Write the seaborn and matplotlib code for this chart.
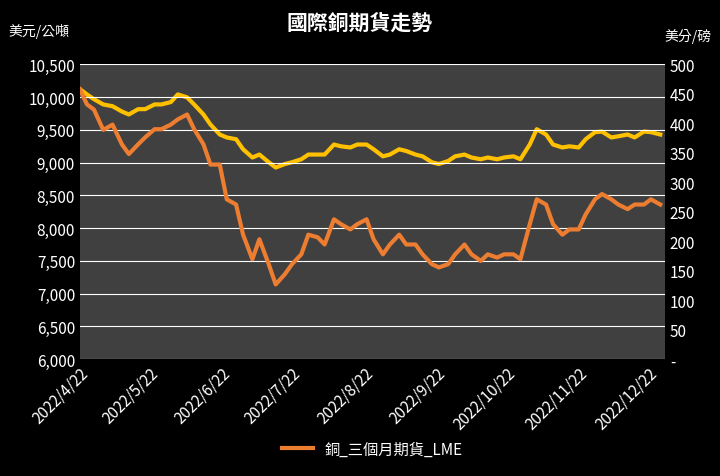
import matplotlib
matplotlib.use("Agg")
import matplotlib.pyplot as plt
import matplotlib.dates as mdates
import seaborn as sns
import pandas as pd

plt.rcParams["font.family"] = ["Noto Sans CJK TC", "DejaVu Sans"]

dates = ["2022-04-22","2022-04-25","2022-04-28","2022-05-02","2022-05-06","2022-05-10","2022-05-13","2022-05-17","2022-05-20","2022-05-24","2022-05-27","2022-05-31","2022-06-03","2022-06-07","2022-06-10","2022-06-14","2022-06-17","2022-06-21","2022-06-24","2022-06-28","2022-07-01","2022-07-05","2022-07-08","2022-07-12","2022-07-15","2022-07-19","2022-07-22","2022-07-26","2022-07-29","2022-08-02","2022-08-05","2022-08-09","2022-08-12","2022-08-16","2022-08-19","2022-08-23","2022-08-26","2022-08-30","2022-09-02","2022-09-06","2022-09-09","2022-09-13","2022-09-16","2022-09-20","2022-09-23","2022-09-27","2022-09-30","2022-10-04","2022-10-07","2022-10-11","2022-10-14","2022-10-18","2022-10-21","2022-10-25","2022-10-28","2022-11-01","2022-11-04","2022-11-08","2022-11-11","2022-11-15","2022-11-18","2022-11-22","2022-11-25","2022-11-29","2022-12-02","2022-12-06","2022-12-09","2022-12-13","2022-12-16","2022-12-20","2022-12-23","2022-12-27"]
lme = [10120,9890,9810,9500,9580,9280,9130,9280,9385,9510,9510,9580,9660,9735,9510,9280,8970,8970,8440,8360,7900,7525,7830,7450,7140,7300,7450,7600,7900,7860,7750,8135,8060,7980,8060,8135,7830,7600,7750,7900,7750,7750,7600,7450,7400,7450,7600,7750,7600,7500,7600,7550,7600,7600,7525,8060,8440,8360,8060,7900,7980,7980,8210,8440,8520,8440,8360,8290,8360,8360,8440,8360]
comex = [458,449,441,432,429,420,415,424,424,432,432,436,449,444,432,415,398,381,376,373,356,342,347,334,325,331,334,339,347,347,347,364,361,359,364,364,356,344,347,356,353,347,344,334,331,336,344,347,342,339,342,339,342,344,339,364,390,381,364,359,361,359,373,385,386,376,378,381,376,386,385,381]
tick_dates = ["2022-04-22","2022-05-22","2022-06-22","2022-07-22","2022-08-22","2022-09-22","2022-10-22","2022-11-22","2022-12-22"]
tick_labels = ["2022/4/22","2022/5/22","2022/6/22","2022/7/22","2022/8/22","2022/9/22","2022/10/22","2022/11/22","2022/12/22"]

df = pd.DataFrame({"date": pd.to_datetime(dates), "lme": lme, "comex": comex})

fig = plt.figure(figsize=(7.2, 4.77), dpi=100, facecolor="black")
ax = fig.add_axes([0.111, 0.245, 0.8125, 0.618])
ax.set_facecolor("#404040")
ax2 = ax.twinx()

sns.lineplot(data=df, x="date", y="comex", ax=ax2, color="#FFC000", linewidth=3)
sns.lineplot(data=df, x="date", y="lme", ax=ax, color="#ED7D31", linewidth=3, label="銅_三個月期貨_LME")
ax.set_zorder(ax2.get_zorder() + 1)
ax.patch.set_visible(False)
ax2.patch.set_visible(True)
ax2.set_facecolor("#404040")

ax.set_ylim(6000, 10500)
ax.set_yticks(range(6000, 10501, 500))
ax.set_yticklabels([f"{v:,}" for v in range(6000, 10501, 500)])
ax2.set_ylim(0, 500)
ax2.set_yticks(range(0, 501, 50))
ax2.set_yticklabels(["-"] + [str(v) for v in range(50, 501, 50)])
ax.grid(axis="y", color="white", linewidth=0.8)
ax.set_xlim(pd.Timestamp("2022-04-22"), pd.Timestamp("2022-12-29"))
ax.set_xticks(pd.to_datetime(tick_dates))
ax.set_xticklabels(tick_labels, rotation=45, ha="right", rotation_mode="anchor")

for a in (ax, ax2):
    a.set_xlabel(""); a.set_ylabel("")
    a.tick_params(colors="white", labelsize=11, length=0)
    for s in a.spines.values():
        s.set_visible(False)

fig.text(0.5, 0.935, "國際銅期貨走勢", color="white", fontsize=15, fontweight="bold", ha="center")
fig.text(0.012, 0.925, "美元/公噸", color="white", fontsize=10, ha="left")
fig.text(0.988, 0.915, "美分/磅", color="white", fontsize=10, ha="right")

leg = ax.legend(loc="upper center", bbox_to_anchor=(0.5, -0.23), frameon=False, fontsize=11)
for t in leg.get_texts():
    t.set_color("white")

fig.savefig("out.png", dpi=100, facecolor="black")
